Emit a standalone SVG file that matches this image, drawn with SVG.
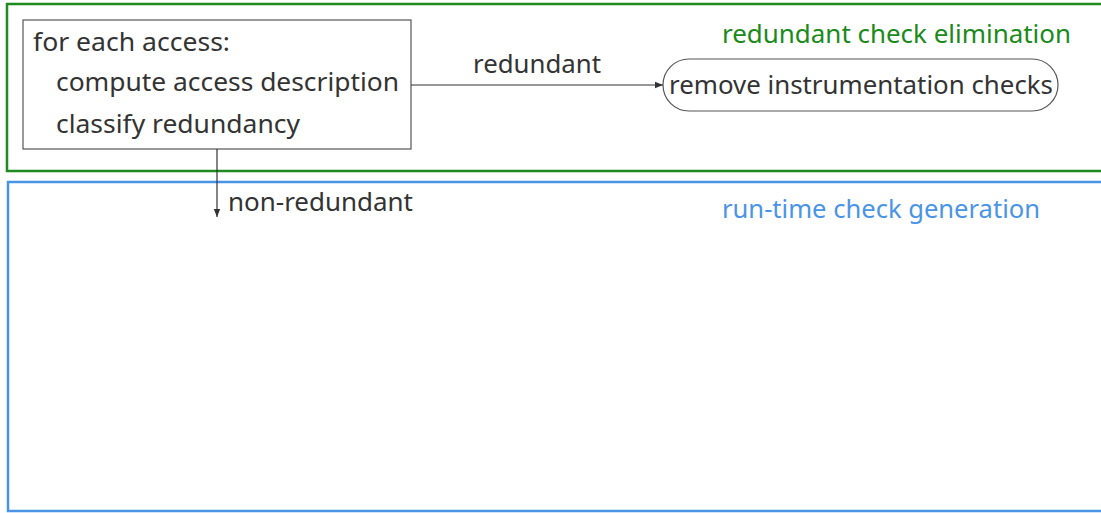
<svg xmlns="http://www.w3.org/2000/svg" width="1101" height="513" viewBox="0 0 1101 513">
  <defs>
    <marker id="arrow" viewBox="0 0 10 10" refX="10" refY="5" markerWidth="8" markerHeight="8" markerUnits="userSpaceOnUse" orient="auto">
      <path d="M0,1 L10,5 L0,9 z" fill="#333"/>
    </marker>
    <style>
      text { font-family: "Noto Sans", "Open Sans", sans-serif; font-size: 26px; fill: #333; }
      .node { fill: #fff; stroke: #555; stroke-width: 1.2; }
      .edge { fill: none; stroke: #333; stroke-width: 1.2; marker-end: url(#arrow); }
      .cluster-green { fill: none; stroke: #1f8a1f; stroke-width: 2.5; }
      .cluster-blue { fill: none; stroke: #4a94e6; stroke-width: 2.5; }
      .label-green { fill: #1a8a1a; }
      .label-blue { fill: #4a94e6; }
    </style>
  </defs>

  <!-- clusters -->
  <g id="cluster-elimination">
    <rect class="cluster-green" x="7" y="4" width="1110" height="167"/>
    <text class="label-green" x="722" y="43" textLength="349" lengthAdjust="spacingAndGlyphs">redundant check elimination</text>
  </g>
  <g id="cluster-generation">
    <rect class="cluster-blue" x="8" y="182" width="1110" height="329"/>
    <text class="label-blue" x="722" y="218" textLength="318" lengthAdjust="spacingAndGlyphs">run-time check generation</text>
  </g>

  <!-- nodes -->
  <g id="node-classify">
    <rect class="node" x="23" y="20" width="388" height="129"/>
    <text x="33" y="51" textLength="197" lengthAdjust="spacingAndGlyphs">for each access:</text>
    <text x="56" y="91" textLength="343" lengthAdjust="spacingAndGlyphs">compute access description</text>
    <text x="56" y="133" textLength="244" lengthAdjust="spacingAndGlyphs">classify redundancy</text>
  </g>
  <g id="node-remove">
    <rect class="node" x="663" y="59" width="395" height="52" rx="26" ry="26"/>
    <text x="669" y="94" textLength="384" lengthAdjust="spacingAndGlyphs">remove instrumentation checks</text>
  </g>

  <!-- connectors -->
  <g id="edges">
    <path class="edge" d="M411,85 L663,85"/>
    <text x="473" y="73" textLength="128" lengthAdjust="spacingAndGlyphs">redundant</text>
    <path class="edge" d="M217,149 L217,217"/>
    <text x="228" y="211" textLength="185" lengthAdjust="spacingAndGlyphs">non-redundant</text>
  </g>
</svg>
